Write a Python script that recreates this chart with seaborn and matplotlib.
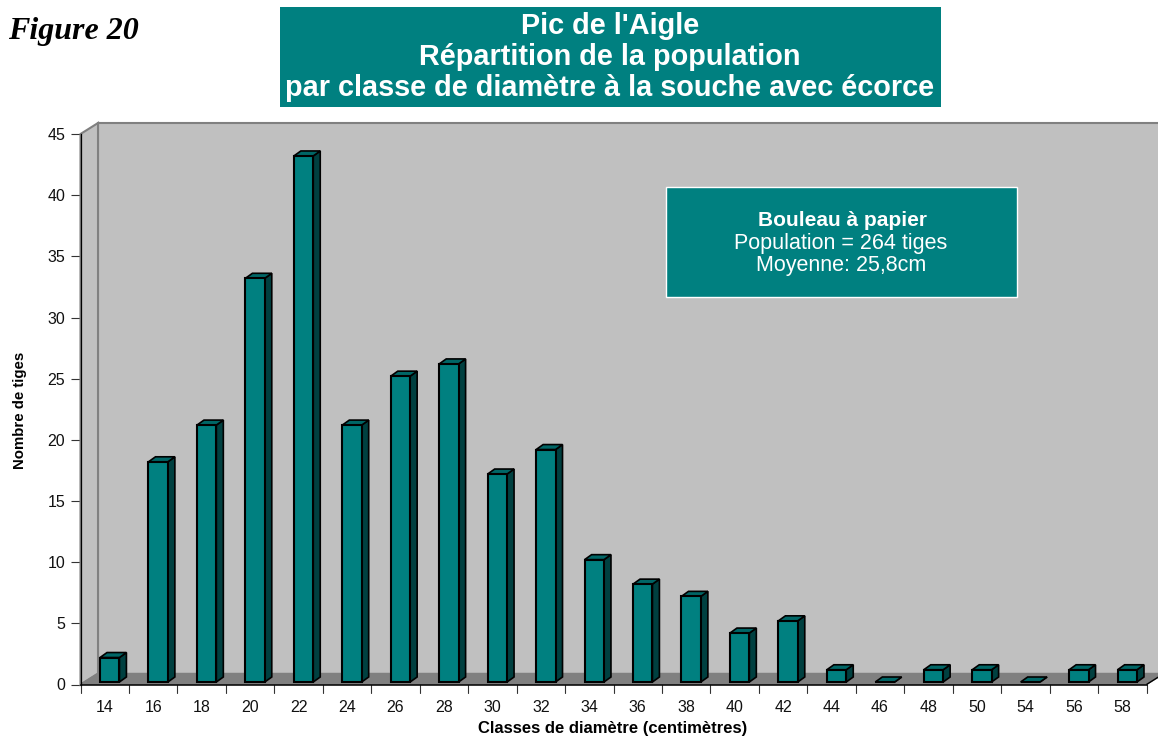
import matplotlib
matplotlib.use("Agg")
import matplotlib.pyplot as plt
from matplotlib.patches import Polygon, Rectangle
import pandas as pd
import seaborn as sns

classes = ["14","16","18","20","22","24","26","28","30","32","34","36","38","40","42","44","46","48","50","54","56","58"]
stems = [2,18,21,33,43,21,25,26,17,19,10,8,7,4,5,1,0,1,1,0,1,1]
y_ticks = [0,5,10,15,20,25,30,35,40,45]

W, H = 1158, 736
TEAL, SIDE, TOP_FACE = "#008080", "#004040", "#006666"
WALL, FLOOR, EDGE = "#C0C0C0", "#808080", "#808080"

sns.set_style("white")
plt.rcParams["font.family"] = ["Liberation Sans", "DejaVu Sans"]

fig = plt.figure(figsize=(W/100, H/100), dpi=100, facecolor="white")
L, R, T, B = 80.5, 1146.5, 134, 684.5
ax = fig.add_axes([L/W, 1-B/H, (R-L)/W, (B-T)/H])
ax.patch.set_visible(False)

df = pd.DataFrame({"classe": classes, "tiges": stems})
px_per_y = (B-T)/45
lift = 2.5/px_per_y
sns.barplot(data=df, x="classe", y="tiges", color=TEAL, saturation=1, width=0.4,
            bottom=lift, edgecolor="black", linewidth=1.5, ax=ax, zorder=4)
ax.set_xlim(-0.5, len(classes)-0.5)
ax.set_ylim(0, 45)
px_per_x = (R-L)/len(classes)

def ox(px): return px/px_per_x
def oy(px): return px/px_per_y

# walls and floor, offset from the axes by the chart's depth
x0, x1 = ax.get_xlim()
wx, wy = ox(17.5), oy(11)
ax.add_patch(Polygon([(x0, 0), (x0+wx, wy), (x1+wx, wy), (x1, 0)], fc=FLOOR, ec=FLOOR, lw=1, clip_on=False, zorder=1))
ax.add_patch(Polygon([(x0+wx, wy), (x0+wx, 45+wy), (x1+wx, 45+wy), (x1+wx, wy)], fc=WALL, ec=EDGE, lw=1.5, clip_on=False, zorder=0.5))
ax.add_patch(Polygon([(x0, 0), (x0, 45), (x0+wx, 45+wy), (x0+wx, wy)], fc=WALL, ec=EDGE, lw=1.5, clip_on=False, zorder=0.6))
ax.add_patch(Polygon([(x1, 0), (x1+wx, wy)], closed=False, fill=False, ec="black", lw=1, clip_on=False, zorder=1.5))

# bar depth built from the bars seaborn drew
shift = ox(5)
dx, dy = ox(7), oy(5)
for bar in list(ax.patches):
    if not isinstance(bar, Rectangle) or bar.get_zorder() != 4:
        continue
    bar.set_x(bar.get_x()+shift)
    a, w, b, h = bar.get_x(), bar.get_width(), bar.get_y(), bar.get_height()
    ax.add_patch(Polygon([(a+w, b), (a+w+dx, b+dy), (a+w+dx, b+h+dy), (a+w, b+h)],
                         fc=SIDE, ec="black", lw=1.2, zorder=3.5, clip_on=False))
    ax.add_patch(Polygon([(a, b+h), (a+dx, b+h+dy), (a+w+dx, b+h+dy), (a+w, b+h)],
                         fc=TOP_FACE, ec="black", lw=1.2, zorder=3.5, clip_on=False))

sns.despine(ax=ax, top=True, right=True)
ax.spines["left"].set_color("black")
ax.spines["left"].set_linewidth(0.9)
ax.spines["bottom"].set_color("black")
ax.spines["bottom"].set_linewidth(1.1)
ax.spines["left"].set_zorder(5)
ax.spines["bottom"].set_zorder(5)
ax.set_yticks(y_ticks)
ax.set_xticks(range(len(classes)))
ax.set_xticklabels(classes)
ax.tick_params(axis="x", length=0, pad=11.5, labelsize=11.5, colors="#111111")
ax.tick_params(axis="y", length=7.5, width=0.8, pad=3.6, labelsize=11.5, color="#333333", labelcolor="#111111", left=True)
for edge in range(len(classes)+1):
    ax.plot([edge-0.5]*2, [0, -oy(8)], color="#333333", lw=0.8, clip_on=False, zorder=5)
ax.set_xlabel("")
ax.set_ylabel("")

def fx(p): return p/W
def fy(p): return 1-p/H

fig.text(fx(20), fy(410), "Nombre de tiges", rotation=90, ha="center", va="center", fontsize=10.8, fontweight="bold", color="black")
fig.text(fx(613), fy(728), "Classes de diamètre (centimètres)", ha="center", va="center", fontsize=12, fontweight="bold", color="black")
fig.text(fx(8), fy(32), "Figure 20", ha="left", va="center", fontsize=23, fontweight="bold", fontstyle="italic", family=["Liberation Serif"], color="black")

fig.add_artist(Rectangle((fx(280), fy(107)), 661/W, 100/H, transform=fig.transFigure, fc=TEAL, ec="none"))
title_lines = ["Pic de l'Aigle", "Répartition de la population", "par classe de diamètre à la souche avec écorce"]
for txt, yp in zip(title_lines, [26, 57, 88]):
    fig.text(fx(610), fy(yp), txt, ha="center", va="center", fontsize=20.8, fontweight="bold", color="white")

fig.add_artist(Rectangle((fx(666), fy(297)), 351/W, 110/H, transform=fig.transFigure, fc=TEAL, ec="white", lw=1, zorder=6))
fig.text(fx(842), fy(220), "Bouleau à papier", ha="center", va="center", fontsize=15, fontweight="bold", color="white", zorder=7)
fig.text(fx(841), fy(244), "Population = 264 tiges", ha="center", va="center", fontsize=15.5, color="white", zorder=7)
fig.text(fx(841), fy(265), "Moyenne: 25,8cm", ha="center", va="center", fontsize=15.5, color="white", zorder=7)

fig.savefig("out.png", dpi=100, facecolor="white")
